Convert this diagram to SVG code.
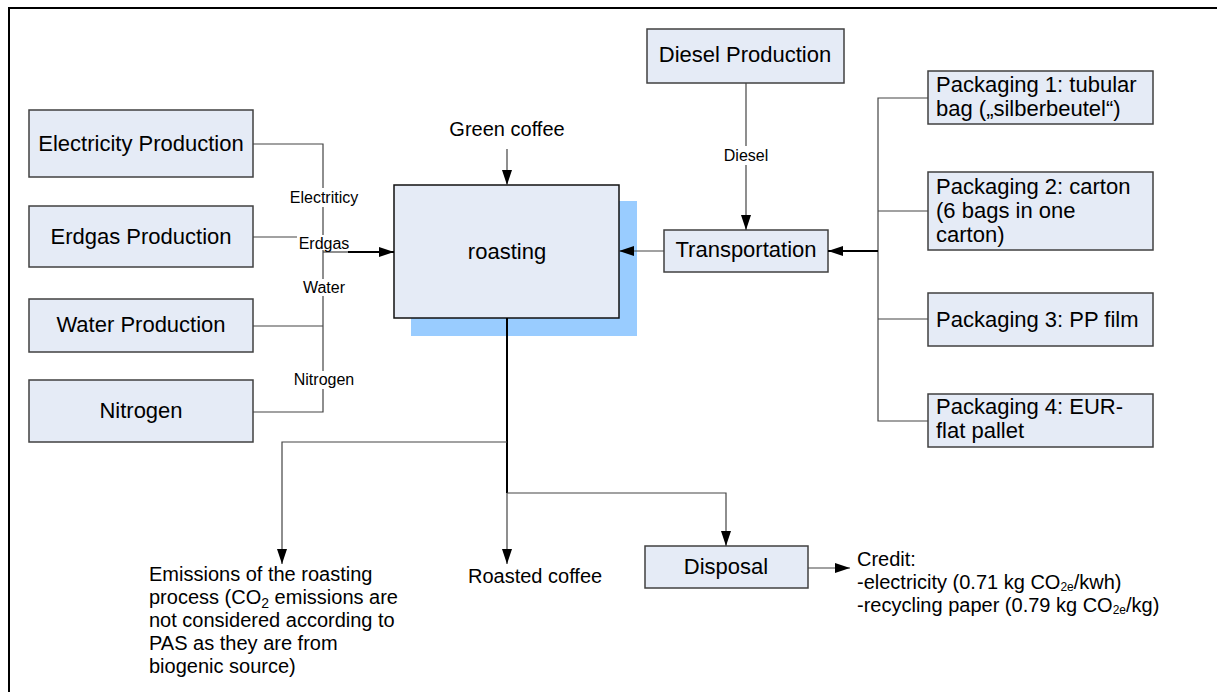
<svg xmlns="http://www.w3.org/2000/svg" width="1217" height="692" viewBox="0 0 1217 692">
  <defs>
    <marker id="arrow" markerUnits="userSpaceOnUse" markerWidth="15" markerHeight="10" refX="15" refY="5" orient="auto">
      <path d="M0,0 L15,5 L0,10 z" fill="#000"/>
    </marker>
    <style>
      text { font-family: "Liberation Sans", Arial, sans-serif; fill: #000; }
      .box { fill: #E5EBF6; stroke: #404040; stroke-width: 1.5; }
      .main { fill: #E5EBF6; stroke: #111; stroke-width: 1.5; }
      .shadow { fill: #99CCFF; }
      .lbl { font-size: 22px; text-anchor: middle; }
      .pk { font-size: 22px; }
      .note { font-size: 20px; }
      .credit { font-size: 20px; }
      .edge { font-size: 16px; text-anchor: middle; }
      .bg { fill: #fff; }
      .ln { fill: none; stroke: #444; stroke-width: 1.2; }
      .dk { fill: none; stroke: #000; stroke-width: 2; }
      .frame { fill: none; stroke: #000; stroke-width: 2; }
    </style>
  </defs>

  <rect width="1217" height="692" fill="#fff"/>
  <!-- page frame: top and left edges only -->
  <path class="frame" d="M9,692 V8 H1217"/>

  <g id="electricity-production">
    <rect class="box" x="29" y="110" width="224" height="67"/>
    <text class="lbl" x="141" y="151">Electricity Production</text>
  </g>
  <g id="erdgas-production">
    <rect class="box" x="29" y="206" width="224" height="61"/>
    <text class="lbl" x="141" y="244">Erdgas Production</text>
  </g>
  <g id="water-production">
    <rect class="box" x="29" y="299" width="224" height="53"/>
    <text class="lbl" x="141" y="332">Water Production</text>
  </g>
  <g id="nitrogen">
    <rect class="box" x="29" y="380" width="224" height="62"/>
    <text class="lbl" x="141" y="418">Nitrogen</text>
  </g>

  <g id="green-coffee">
    <text class="note" x="507" y="136" text-anchor="middle">Green coffee</text>
  </g>

  <g id="roasting">
    <rect class="shadow" x="411" y="201" width="226" height="135"/>
    <rect class="main" x="394" y="185" width="225" height="133"/>
    <text class="lbl" x="507" y="259">roasting</text>
  </g>

  <g id="diesel-production">
    <rect class="box" x="647" y="29" width="197" height="54"/>
    <text class="lbl" x="745" y="62">Diesel Production</text>
  </g>
  <g id="transportation">
    <rect class="box" x="664" y="230" width="164" height="42"/>
    <text class="lbl" x="746" y="257">Transportation</text>
  </g>

  <g id="packaging-1">
    <rect class="box" x="928" y="71" width="225" height="53"/>
    <text class="pk" x="936" y="92">Packaging 1: tubular</text>
    <text class="pk" x="936" y="116">bag („silberbeutel“)</text>
  </g>
  <g id="packaging-2">
    <rect class="box" x="928" y="172" width="225" height="78"/>
    <text class="pk" x="936" y="194">Packaging 2: carton</text>
    <text class="pk" x="936" y="218">(6 bags in one</text>
    <text class="pk" x="936" y="242">carton)</text>
  </g>
  <g id="packaging-3">
    <rect class="box" x="928" y="293" width="225" height="53"/>
    <text class="pk" x="936" y="327">Packaging 3: PP film</text>
  </g>
  <g id="packaging-4">
    <rect class="box" x="928" y="394" width="225" height="53"/>
    <text class="pk" x="936" y="414">Packaging 4: EUR-</text>
    <text class="pk" x="936" y="438">flat pallet</text>
  </g>

  <g id="emissions">
    <text class="note" x="149" y="581">Emissions of the roasting</text>
    <text class="note" x="149" y="604">process (CO<tspan font-size="14" dy="4">2</tspan><tspan dy="-4"> emissions are</tspan></text>
    <text class="note" x="149" y="627">not considered according to</text>
    <text class="note" x="149" y="650">PAS as they are from</text>
    <text class="note" x="149" y="673">biogenic source)</text>
  </g>

  <g id="roasted-coffee">
    <text class="note" x="468" y="583">Roasted coffee</text>
  </g>

  <g id="disposal">
    <rect class="box" x="645" y="546" width="163" height="42"/>
    <text class="lbl" x="726" y="574">Disposal</text>
  </g>

  <g id="credit">
    <text class="credit" x="857" y="566">Credit:</text>
    <text class="credit" x="857" y="589">-electricity (0.71 kg CO<tspan font-size="12" dy="2">2e</tspan><tspan dy="-2">/kwh)</tspan></text>
    <text class="credit" x="857" y="612">-recycling paper (0.79 kg CO<tspan font-size="12" dy="2">2e</tspan><tspan dy="-2">/kg)</tspan></text>
  </g>

  <!-- connectors, drawn over the node shapes -->
  <g id="connectors">
    <!-- energy and media supply bus on the left -->
    <path class="ln" d="M253,144 H323 V412 H253"/>
    <path class="ln" d="M253,237 H323"/>
    <path class="ln" d="M253,326 H323"/>
    <path class="ln" d="M323,252 H348"/>
    <path class="dk" d="M348,252 H394" marker-end="url(#arrow)"/>
    <rect class="bg" x="288" y="188" width="72" height="19"/>
    <text class="edge" x="324" y="203">Electriticy</text>
    <rect class="bg" x="297" y="235" width="54" height="15"/>
    <text class="edge" x="324" y="249">Erdgas</text>
    <rect class="bg" x="304" y="279" width="40" height="17"/>
    <text class="edge" x="324" y="293">Water</text>
    <rect class="bg" x="292" y="371" width="64" height="18"/>
    <text class="edge" x="324" y="385">Nitrogen</text>

    <!-- green coffee input -->
    <path class="ln" d="M507,149 V185" marker-end="url(#arrow)"/>

    <!-- diesel to transportation -->
    <path class="ln" d="M746,83 V230" marker-end="url(#arrow)"/>
    <rect class="bg" x="722" y="146" width="48" height="19"/>
    <text class="edge" x="746" y="161">Diesel</text>

    <!-- transportation to roasting -->
    <path class="ln" d="M664,251 H619" marker-end="url(#arrow)"/>

    <!-- packaging bus -->
    <path class="ln" d="M928,98 H878 V421 H928"/>
    <path class="ln" d="M878,211 H928"/>
    <path class="ln" d="M878,319 H928"/>
    <path class="dk" d="M878,251 H828" marker-end="url(#arrow)"/>

    <!-- roasting outputs -->
    <path class="dk" d="M507,318 V493"/>
    <path class="ln" d="M507,493 V564" marker-end="url(#arrow)"/>
    <path class="ln" d="M507,442 H282 V564" marker-end="url(#arrow)"/>
    <path class="ln" d="M507,493 H726 V546" marker-end="url(#arrow)"/>

    <!-- disposal credit -->
    <path class="ln" d="M808,568 H850" marker-end="url(#arrow)"/>
  </g>
</svg>
